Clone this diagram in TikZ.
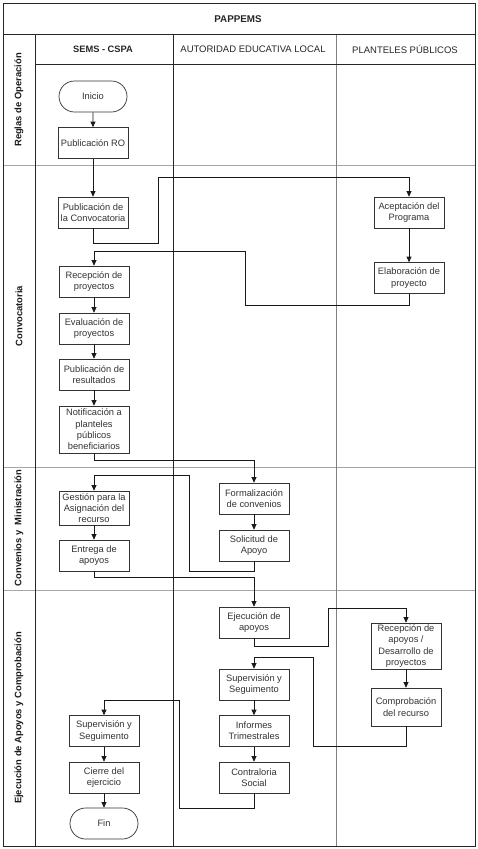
\documentclass[tikz,border=0pt]{standalone}
\usepackage{fontspec}
\setmainfont{Liberation Sans}
\usetikzlibrary{arrows.meta,shapes.misc}
\begin{document}
\begin{tikzpicture}[x=1pt,y=-1pt,
  frame/.style={draw=black!85,line width=0.9pt},
  sep/.style={draw=black!35,line width=0.9pt},
  sepd/.style={draw=black!50,line width=0.9pt},
  box/.style={draw=black!80,fill=white,line width=0.7pt,minimum width=70pt,minimum height=31pt,
    align=center,inner sep=1pt,text=black!80,font=\fontsize{9.3}{11.3}\selectfont},
  term/.style={box,rounded rectangle},
  arr/.style={draw=black!90,line width=0.7pt,-{Triangle[length=5.5pt,width=5pt]}},
  lane/.style={font=\fontsize{9.5}{11}\selectfont,text=black!85},
  rowlab/.style={font=\bfseries\fontsize{9.4}{11}\selectfont,rotate=90,text=black!90}]
\useasboundingbox (0,0) rectangle (477,849);
% grid
\draw[sep] (3,165) -- (475,165);
\draw[sep] (3,467.5) -- (475,467.5);
\draw[sep] (3,590) -- (475,590);
\draw[sepd] (336,34) -- (336,846);
\draw[frame] (3,34) -- (475,34);
\draw[frame] (35,64.5) -- (475,64.5);
\draw[frame] (35,34) -- (35,846);
\draw[frame] (173,34) -- (173,846);
\draw[frame] (3,3) rectangle (475,846);
% headers
\node[font=\bfseries\fontsize{9.8}{11}\selectfont,text=black!85] (title) at (238,19) {PAPPEMS};
\node[lane,font=\bfseries\fontsize{9.3}{11}\selectfont] (h1) at (103,49.5) {SEMS - CSPA};
\node[lane] (h2) at (253,49.5) {AUTORIDAD EDUCATIVA LOCAL};
\node[lane] (h3) at (405,49.5) {PLANTELES PÚBLICOS};
\node[rowlab] (r1) at (19,100) {Reglas de Operación};
\node[rowlab] (r2) at (19,316) {Convocatoria};
\node[rowlab] (r3) at (19,528) {Convenios y\ \ Ministración};
\node[rowlab] (r4) at (19,718) {Ejecución de Apoyos y Comprobación};
% nodes
\node[term] (ini) at (93,96.5) {Inicio};
\node[box] (pro) at (93,143) {Publicación RO};
\node[box] (pco) at (93,212.5) {Publicación de\\la Convocatoria};
\node[box] (acp) at (409,212.5) {Aceptación del\\Programa};
\node[box] (ela) at (409,278) {Elaboración de\\proyecto};
\node[box] (rec) at (94,281.5) {Recepción de\\proyectos};
\node[box] (eva) at (94,328.5) {Evaluación de\\proyectos};
\node[box] (pub) at (94,374.5) {Publicación de\\resultados};
\node[box,minimum height=47pt] (not) at (94,429.5) {Notificación a\\planteles\\públicos\\beneficiarios};
\node[box] (for) at (254,498.5) {Formalización\\de convenios};
\node[box] (sol) at (254,545.5) {Solicitud de\\Apoyo};
\node[box,minimum height=34pt] (ges) at (94,508) {Gestión para la\\Asignación del\\recurso};
\node[box] (ent) at (94,555.5) {Entrega de\\apoyos};
\node[box] (eje) at (254,622.5) {Ejecución de\\apoyos};
\node[box,minimum height=46pt] (rca) at (406,646) {Recepción de\\apoyos /\\Desarrollo de\\proyectos};
\node[box,minimum height=38pt] (cmp) at (406,707) {Comprobación\\del recurso};
\node[box] (sa) at (254,684.5) {Supervisión y\\Seguimento};
\node[box] (inf) at (254,731) {Informes\\Trimestrales};
\node[box] (con) at (254,777.5) {Contraloria\\Social};
\node[box] (ss) at (104,731) {Supervisión y\\Seguimento};
\node[box] (cie) at (104,777.5) {Cierre del\\ejercicio};
\node[term] (fin) at (104,823.5) {Fin};
% connectors
\draw[arr] (ini) -- (pro);
\draw[arr] (pro) -- (pco);
\draw[arr] (pco.south) |- (158,243) -- (158,177) -| (acp.north);
\draw[arr] (acp) -- (ela);
\draw[arr] (ela.south) |- (245,305) -- (245,251) -| (rec.north);
\draw[arr] (rec) -- (eva);
\draw[arr] (eva) -- (pub);
\draw[arr] (pub) -- (not);
\draw[arr] (not.south) -- ++(0,7) -| (for.north);
\draw[arr] (for) -- (sol);
\draw[arr] (sol.south) -- ++(0,10) -| (189,475) -| (ges.north);
\draw[arr] (ges) -- (ent);
\draw[arr] (ent.south) -- ++(0,6) -| (eje.north);
\draw[arr] (eje.south) -- ++(0,8) -| (328,608) -| (rca.north);
\draw[arr] (rca) -- (cmp);
\draw[arr] (cmp.south) -- ++(0,20) -| (313,657) -| (sa.north);
\draw[arr] (sa) -- (inf);
\draw[arr] (inf) -- (con);
\draw[arr] (con.south) -- ++(0,15) -| (179,700) -| (ss.north);
\draw[arr] (ss) -- (cie);
\draw[arr] (cie) -- (fin);
\end{tikzpicture}
\end{document}
